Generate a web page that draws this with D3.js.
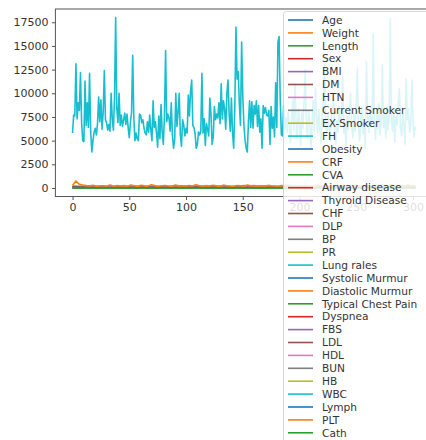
<!DOCTYPE html>
<html>
<head>
<meta charset="utf-8">
<script src="https://cdn.jsdelivr.net/npm/d3@7"></script>
<style>
  body { margin: 0; background: #fff; }
  svg { display: block; font-family: "DejaVu Sans", sans-serif; }
</style>
</head>
<body>
<svg id="chart"></svg>
<script>
// column names, in dataframe order
var columns = ["Age", "Weight", "Length", "Sex", "BMI", "DM", "HTN", "Current Smoker", "EX-Smoker", "FH",
  "Obesity", "CRF", "CVA", "Airway disease", "Thyroid Disease", "CHF", "DLP", "BP", "PR", "Lung rales",
  "Systolic Murmur", "Diastolic Murmur", "Typical Chest Pain", "Dyspnea", "FBS", "LDL", "HDL", "BUN", "HB",
  "WBC", "Lymph", "PLT", "Cath"];

var xTicks = [0, 50, 100, 150, 200, 250, 300];
var yTicks = [0, 2500, 5000, 7500, 10000, 12500, 15000, 17500];
var lastRow = 302;

// WBC, one value per row
var wbc = [
  5800,7700,7600,13100,7300,9000,8200,12200,6900,5000,
  4900,11300,6600,9000,6400,12100,6000,3800,5000,5900,
  6300,5600,6800,9600,7000,9300,6200,8000,12400,7200,
  6900,6100,6700,6000,10000,7300,6100,9500,18000,8400,
  6900,10000,6600,7700,6500,7200,7900,6700,7800,6400,
  5300,6900,8000,14000,7500,5000,5800,5200,5000,7800,
  7700,6900,7200,6300,5800,5600,7000,5900,7700,6100,
  5000,9200,6400,7000,5800,4300,7600,5200,8800,5900,
  4600,7600,14500,7000,7800,7400,6000,9000,5600,4200,
  5100,10000,6500,8000,10000,5600,4400,7200,6600,5500,
  6300,5800,9800,7600,10200,11400,6600,6400,5700,4200,
  4600,5900,5600,6000,12100,5800,7300,4500,6800,6200,
  5500,9500,7800,4600,5400,8600,7200,7800,7400,9000,
  6800,11000,7300,9200,8300,6200,10000,11400,7800,6000,
  9500,5800,4200,8500,17000,11500,12300,8800,6600,15400,
  9800,6700,5100,4200,3800,7000,9200,6400,9100,6300,
  8700,7800,9200,6500,8700,5900,7300,4200,8700,7900,
  8500,7700,7600,8200,4600,8600,6300,7500,5400,11100,
  6400,15400,16000,9500,5600,5500,8700,6200,7400,5900,
  8000,6600,4800,7200,9300,6100,11000,7000,5200,8400,
  6800,4500,7900,6300,9000,12500,6700,5400,8100,7000,
  4300,6600,9200,6000,10500,7500,5800,8300,6200,4700,
  7700,9600,13000,6900,5600,8000,6400,5000,7300,8800,
  9500,6100,4600,7100,5900,8600,6800,7500,11800,5800,
  6900,4400,7600,6200,8200,10000,6500,5300,7900,6000,
  8800,12700,6300,5000,7400,8600,5700,6900,4200,13300,
  7600,5900,8300,6600,7200,16300,6800,5100,7700,6200,
  8900,5600,7000,13000,6400,7800,5300,8500,6100,7300,
  17900,7000,6000,8300,4800,7500,6700,9000,10500,6300,
  5500,7800,6600,4600,11500,7200,8400,5900,6800,11400,
  7000,5400,6500
];

// PLT, every 3rd row
var plt = [260,742,380,310,250,220,280,190,240,230,200,310,180,260,210,250,190,300,230,170,
  280,220,200,340,250,180,230,260,210,190,300,220,240,180,270,210,350,230,190,250,
  200,280,220,170,300,240,210,190,260,230,180,310,220,250,200,240,190,270,230,210,
  180,250,220,300,200,240,190,220,260,180,230,210,280,200,250,190,220,240,180,300,
  210,230,200,260,190,240,220,180,270,230,210,250,200,320,240,190,260,220,300,230,250];

// the small columns, every 10th row
var age = [53,67,54,66,50,50,55,72,58,45,61,49,70,62,56,53,68,60,47,59,64,52,57,71,48,63,55,66,51,58,62];
var weight = [90,70,54,67,87,75,80,65,72,83,60,78,68,95,74,70,66,85,77,62,88,73,69,80,58,76,92,71,64,82,79];
var heightCm = [175,160,165,158,170,168,172,155,162,176,150,166,160,180,163,158,170,174,152,167,165,160,178,156,169,172,161,164,158,171,166];
var sex = [1,0,1,0,1,1,0,1,1,0,1,0,1,1,0,1,1,0,0,1,1,0,1,1,0,1,1,0,1,0,1];
var bmi = [29,27,20,27,30,26,27,27,27,26,26,28,26,29,27,28,23,28,32,22,29,28,22,33,20,26,35,27,25,28,28];
var dm = [0,0,0,1,0,0,1,0,0,0,1,0,0,0,1,0,0,1,0,0,0,1,0,0,0,0,1,0,0,1,0];
var htn = [1,1,0,1,1,0,1,1,0,1,1,0,1,0,1,1,0,1,1,0,1,0,1,1,0,1,0,1,1,0,1];
var currentSmoker = [1,0,0,0,1,0,0,1,0,0,0,1,0,0,0,0,1,0,0,1,0,0,0,1,0,0,0,0,1,0,0];
var exSmoker = [0,0,0,0,0,1,0,0,0,0,0,0,0,1,0,0,0,0,0,0,0,0,0,0,1,0,0,0,0,0,0];
var fh = [0,0,1,0,0,0,0,1,0,0,0,0,1,0,0,0,0,0,1,0,0,0,0,0,0,1,0,0,0,0,1];
var obesity = [1,1,0,1,1,0,1,1,1,0,0,1,0,1,1,1,0,1,1,0,1,1,0,1,0,0,1,1,0,1,1];
var crf = [0,0,0,0,0,0,0,0,0,0,0,0,0,0,0,0,1,0,0,0,0,0,0,0,0,0,0,0,0,0,0];
var cva = [0,0,0,0,0,0,0,0,0,0,0,0,0,0,0,0,0,0,0,0,0,1,0,0,0,0,0,0,0,0,0];
var airway = [0,0,0,0,0,0,1,0,0,0,0,0,0,0,0,0,0,0,0,0,0,0,0,0,0,1,0,0,0,0,0];
var thyroid = [0,0,0,0,0,0,0,0,0,1,0,0,0,0,0,0,0,0,0,0,0,0,0,0,0,0,0,0,0,0,0];
var chf = [0,0,0,0,0,0,0,0,0,0,0,0,0,0,0,0,0,0,0,0,0,0,0,0,0,0,0,0,0,0,0];
var dlp = [0,0,1,0,0,1,0,0,1,0,0,0,1,0,0,1,0,0,0,1,0,0,1,0,0,0,1,0,0,0,1];
var bp = [110,140,100,120,130,110,150,130,120,140,110,130,160,120,110,130,140,120,130,110,150,120,140,130,110,120,130,140,120,110,130];
var pr = [80,70,80,70,72,80,76,84,70,90,74,80,68,76,80,72,88,70,80,76,84,70,72,80,78,70,88,76,80,70,74];
var lungRales = [0,0,0,0,0,0,0,1,0,0,0,0,0,0,0,0,0,0,0,0,0,0,0,0,0,0,0,0,0,0,0];
var systolicMurmur = [0,0,0,1,0,0,0,0,0,0,1,0,0,0,0,0,0,1,0,0,0,0,0,0,0,1,0,0,0,0,0];
var diastolicMurmur = [0,0,0,0,0,0,0,0,0,0,0,0,0,0,1,0,0,0,0,0,0,0,0,0,0,0,0,0,0,0,0];
var typicalChestPain = [0,1,1,0,1,1,0,1,0,1,1,0,0,1,1,0,1,1,0,0,1,0,1,1,0,1,0,1,1,0,1];
var dyspnea = [0,1,0,0,0,1,0,0,1,0,0,0,1,0,0,0,1,0,0,1,0,0,0,0,1,0,0,1,0,0,0];
var fbs = [90,80,85,78,104,130,95,160,110,88,200,92,85,140,98,260,102,90,115,84,180,96,108,88,150,100,92,310,86,120,94];
var ldl = [155,121,70,55,110,98,130,88,140,102,75,160,115,92,125,85,105,170,80,112,95,135,100,118,72,128,90,145,108,82,120];
var hdl = [30,36,45,33,50,38,42,35,48,40,31,44,37,52,39,34,46,41,36,49,43,38,32,47,40,35,55,39,42,37,44];
var bun = [17,16,12,16,19,14,20,15,18,13,22,17,14,26,16,12,19,15,21,14,18,16,13,24,17,15,19,14,20,16,18];
var hb = [15.6,13.9,13.5,12.1,13.2,14.5,12.8,13.6,15.0,11.9,14.1,13.3,12.6,14.8,13.0,13.8,12.2,14.4,13.5,15.2,12.9,13.7,14.6,12.4,13.1,14.0,12.7,13.9,15.1,13.4,12.8];
var lymph = [39,38,38,18,55,32,28,40,35,22,30,45,33,26,37,29,41,24,36,31,48,27,34,39,20,35,30,43,32,25,38];
var cath = [1,0,1,0,0,1,1,1,0,1,1,1,0,1,1,0,1,1,1,0,1,1,1,0,1,1,0,1,1,1,0];

var seriesValues = [age, weight, heightCm, sex, bmi, dm, htn, currentSmoker, exSmoker, fh,
  obesity, crf, cva, airway, thyroid, chf, dlp, bp, pr, lungRales,
  systolicMurmur, diastolicMurmur, typicalChestPain, dyspnea, fbs, ldl, hdl, bun, hb,
  wbc, lymph, plt, cath];

// spread each column's samples over the row index
var series = columns.map(function(col, k) {
    var vals = seriesValues[k];
    return {
        col: col,
        points: vals.map(function(v, i) { return [i * lastRow / (vals.length - 1), v]; })
    };
});

var svgWidth = 426, svgHeight = 440;
var svg = d3.select("#chart")
    .attr("width", svgWidth)
    .attr("height", svgHeight);

var color = d3.scaleOrdinal(d3.schemeCategory10);

// matplotlib style 5% margins
var allVals = d3.merge(seriesValues);
var yMin = d3.min(allVals), yMax = d3.max(allVals);
var yPad = (yMax - yMin) * 0.05, xPad = lastRow * 0.05;

var plotLeft = 55.4, plotRight = 432.4, plotTop = 9, plotBottom = 196.5;

var x = d3.scaleLinear().domain([-xPad, lastRow + xPad]).range([plotLeft, plotRight]);
var y = d3.scaleLinear().domain([yMin - yPad, yMax + yPad]).range([plotBottom, plotTop]);

svg.append("defs").append("clipPath").attr("id", "plotclip")
    .append("rect")
    .attr("x", plotLeft).attr("y", plotTop)
    .attr("width", plotRight - plotLeft).attr("height", plotBottom - plotTop);

var line = d3.line()
    .x(function(d) { return x(d[0]); })
    .y(function(d) { return y(d[1]); });

svg.append("g")
    .attr("clip-path", "url(#plotclip)")
    .selectAll("path")
    .data(series)
    .enter()
    .append("path")
    .attr("d", function(d) { return line(d.points); })
    .attr("fill", "none")
    .attr("stroke", function(d, i) { return color(i); })
    .attr("stroke-width", 1.6)
    .attr("stroke-linejoin", "round");

// spines
svg.append("rect")
    .attr("x", plotLeft).attr("y", plotTop)
    .attr("width", plotRight - plotLeft).attr("height", plotBottom - plotTop)
    .attr("fill", "none")
    .attr("stroke", "#555")
    .attr("stroke-width", 1);

var xAxis = svg.append("g")
    .attr("transform", "translate(0," + plotBottom + ")")
    .call(d3.axisBottom(x).tickValues(xTicks).tickFormat(d3.format("d")).tickSize(3.5).tickPadding(3.5));

var yAxis = svg.append("g")
    .attr("transform", "translate(" + plotLeft + ",0)")
    .call(d3.axisLeft(y).tickValues(yTicks).tickFormat(d3.format("d")).tickSize(3.5).tickPadding(3.5));

[xAxis, yAxis].forEach(function(a) {
    a.select(".domain").remove();
    a.selectAll("line").attr("stroke", "#555");
    a.selectAll("text")
        .attr("fill", "#333")
        .style("font-size", "11px")
        .style("font-family", "'DejaVu Sans', sans-serif");
});

// legend, semi transparent like matplotlib's
var legX = 283.5, legY = 11.5, rowH = 12.9, firstRow = 20;
var legend = svg.append("g");

legend.append("rect")
    .attr("x", legX).attr("y", legY)
    .attr("width", 170).attr("height", 460)
    .attr("rx", 3)
    .attr("fill", "#fff")
    .attr("fill-opacity", 0.84)
    .attr("stroke", "#ccc")
    .attr("stroke-opacity", 0.8);

var item = legend.selectAll("g.item")
    .data(columns)
    .enter()
    .append("g")
    .attr("class", "item")
    .attr("transform", function(d, i) { return "translate(0," + (firstRow + i * rowH) + ")"; });

item.append("line")
    .attr("x1", 288).attr("x2", 313)
    .attr("stroke", function(d, i) { return color(i); })
    .attr("stroke-width", 1.6);

item.append("text")
    .attr("x", 322)
    .attr("dy", "0.35em")
    .attr("fill", "#333")
    .style("font-size", "10.6px")
    .text(function(d) { return d; });
</script>
</body>
</html>
